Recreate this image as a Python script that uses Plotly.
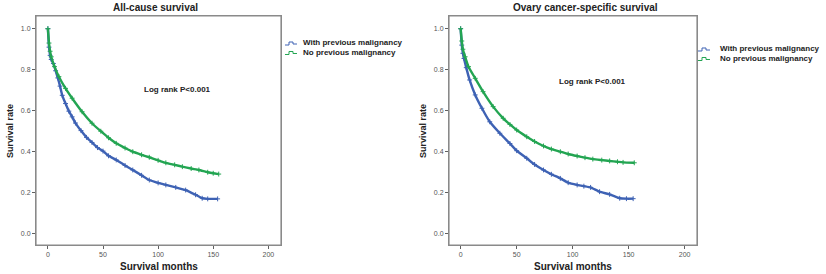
import plotly.graph_objects as go

# ---------------- data ----------------
ac_with_t = [0, 1, 2, 3, 5, 7, 9, 11, 13, 16, 19, 22, 25, 30, 35, 40, 45, 50, 55, 62, 70, 77, 85, 92, 100, 107, 116, 125, 134, 140, 145, 154]
ac_with_s = [1.0, 0.91, 0.87, 0.85, 0.83, 0.795, 0.76, 0.72, 0.675, 0.635, 0.598, 0.57, 0.54, 0.503, 0.47, 0.445, 0.42, 0.403, 0.38, 0.36, 0.333, 0.311, 0.285, 0.262, 0.248, 0.238, 0.226, 0.213, 0.19, 0.173, 0.17, 0.17]

ac_no_t = [0, 1, 2, 3, 6, 10, 16, 22, 31, 40, 48, 55, 62, 70, 77, 85, 92, 100, 107, 115, 122, 130, 137, 145, 150, 155]
ac_no_s = [1.0, 0.93, 0.89, 0.863, 0.815, 0.766, 0.709, 0.661, 0.595, 0.539, 0.50, 0.468, 0.441, 0.418, 0.400, 0.385, 0.373, 0.358, 0.346, 0.336, 0.327, 0.318, 0.311, 0.30, 0.295, 0.291]

cs_with_t = [0, 1, 2, 3, 5, 8, 13, 19, 26, 35, 44, 50, 59, 66, 74, 81, 89, 96, 104, 110, 116, 124, 133, 142, 148, 154]
cs_with_s = [1.0, 0.92, 0.88, 0.855, 0.81, 0.75, 0.677, 0.612, 0.546, 0.49, 0.44, 0.405, 0.368, 0.338, 0.311, 0.29, 0.27, 0.249, 0.238, 0.232, 0.226, 0.205, 0.192, 0.173, 0.171, 0.171]

cs_no_t = [0, 1, 2, 4, 7, 13, 20, 29, 38, 44, 50, 59, 66, 74, 81, 89, 96, 104, 111, 118, 126, 133, 140, 145, 155]
cs_no_s = [1.0, 0.94, 0.90, 0.863, 0.815, 0.758, 0.693, 0.62, 0.563, 0.533, 0.506, 0.473, 0.45, 0.428, 0.413, 0.40, 0.389, 0.379, 0.371, 0.364, 0.359, 0.355, 0.351, 0.348, 0.346]

panel_titles = ["All-cause survival", "Ovary cancer-specific survival"]
series_names = ["With previous malignancy", "No previous malignancy"]
x_ticks = [0, 50, 100, 150, 200]
y_ticks = [0.0, 0.2, 0.4, 0.6, 0.8, 1.0]

BLUE = "#3E62B4"
GREEN = "#23A552"
FRAME = "#8a8a8a"
FONT = "Liberation Sans, Arial, sans-serif"
W, H = 826, 274

def px(x):
    return x / W

def py(y):
    return 1 - y / H

fig = go.Figure()

def add_curve(t, s, color, xa, ya, name):
    fig.add_trace(go.Scatter(
        x=t, y=s, mode="lines+markers", name=name, showlegend=False,
        xaxis=xa, yaxis=ya,
        line=dict(color=color, width=2.4, shape="spline", smoothing=0.4),
        marker=dict(symbol="cross-thin", size=3.5, line=dict(color=color, width=1), color=color),
    ))

add_curve(ac_with_t, ac_with_s, BLUE, "x", "y", series_names[0])
add_curve(ac_no_t, ac_no_s, GREEN, "x", "y", series_names[1])
add_curve(cs_with_t, cs_with_s, BLUE, "x2", "y2", series_names[0])
add_curve(cs_no_t, cs_no_s, GREEN, "x2", "y2", series_names[1])

axis_common = dict(
    showgrid=False, zeroline=False, showline=True, mirror=True,
    linecolor=FRAME, linewidth=1,
    ticks="outside", ticklen=3,
    tickcolor="#606060", tickfont=dict(family=FONT, size=7, color="#555555"),
)

ydom = [py(245), py(16)]
fig.update_layout(
    width=W, height=H, margin=dict(l=0, r=0, t=0, b=0),
    paper_bgcolor="white", plot_bgcolor="white",
    font=dict(family=FONT),
    xaxis=dict(domain=[px(36), px(281)], range=[-10.8, 211.5], tickvals=x_ticks, anchor="y", **axis_common),
    yaxis=dict(domain=ydom, range=[-0.055, 1.062], tickvals=y_ticks, tickformat=".1f", anchor="x", **axis_common),
    xaxis2=dict(domain=[px(449), px(697)], range=[-10.4, 211.0], tickvals=x_ticks, anchor="y2", **axis_common),
    yaxis2=dict(domain=ydom, range=[-0.055, 1.062], tickvals=y_ticks, tickformat=".1f", anchor="x2", **axis_common),
)

ann = []
def text(x, y, s, size, xanchor="center", color="#222222", bold=True, angle=0):
    ann.append(dict(
        x=px(x), y=py(y), xref="paper", yref="paper", text=("<b>%s</b>" % s) if bold else s,
        showarrow=False, xanchor=xanchor, yanchor="middle", textangle=angle,
        font=dict(family=FONT, size=size, color=color),
    ))

# panel titles
text(155, 8, panel_titles[0], 10)
text(585, 8, panel_titles[1], 10)
# axis titles
text(159, 266, "Survival months", 10)
text(573, 266, "Survival months", 10)
text(10, 131, "Survival rate", 9, angle=-90)
text(423, 131, "Survival rate", 9, angle=-90)
# log rank
text(177, 89, "Log rank P&lt;0.001", 8)
text(592, 82, "Log rank P&lt;0.001", 8)

shapes = []
# plot frames drawn as closed paths around each plot box
for (l, r) in [(36, 281), (449, 697)]:
    t, b = 16, 245
    path = "M %f %f L %f %f L %f %f L %f %f Z" % (
        px(l), py(b), px(l), py(t), px(r), py(t), px(r), py(b))
    shapes.append(dict(type="path", path=path, xref="paper", yref="paper",
                       line=dict(color=FRAME, width=1.2), layer="above"))
# legends
leg = [(301, 43, 285), (718, 49, 698)]
for (tx, ty, ix) in leg:
    for k, (name, col) in enumerate(zip(series_names, [BLUE, GREEN])):
        yy = ty + 9.5 * k
        text(tx, yy, name, 8, xanchor="left", color="#222222")
        path = "M %f %f L %f %f L %f %f L %f %f L %f %f L %f %f" % (
            px(ix), py(yy + 2), px(ix + 4), py(yy + 2), px(ix + 4), py(yy - 1),
            px(ix + 8), py(yy - 1), px(ix + 8), py(yy + 1), px(ix + 12), py(yy + 1))
        shapes.append(dict(type="path", path=path, xref="paper", yref="paper",
                           line=dict(color=col, width=1)))

fig.update_layout(annotations=ann, shapes=shapes)
fig.write_html("out.html", config={"displayModeBar": False},
               post_script="document.body.style.margin='0';document.body.style.overflow='hidden';")
